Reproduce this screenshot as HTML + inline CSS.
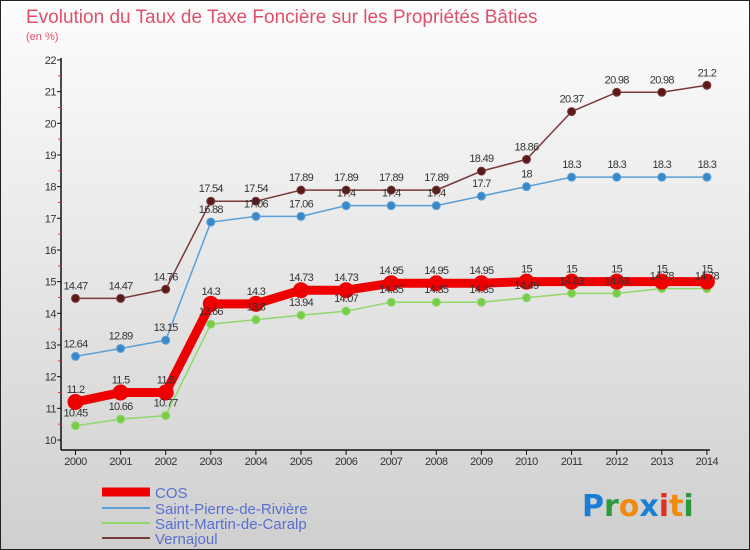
<!DOCTYPE html>
<html><head><meta charset="utf-8"><style>
body{margin:0;width:750px;height:550px;overflow:hidden;font-family:"Liberation Sans",sans-serif}
</style></head><body>
<svg id="chart" width="750" height="550" xmlns="http://www.w3.org/2000/svg" style="display:block">
<defs><linearGradient id="bg" x1="0" y1="0" x2="0" y2="1"><stop offset="0" stop-color="#fdfdfd"/><stop offset="1" stop-color="#cfcfcf"/></linearGradient></defs>
<rect x="0.5" y="0.5" width="749" height="549" fill="url(#bg)" stroke="#222"/>
<text x="26" y="23" font-size="19" fill="#e0506a">Evolution du Taux de Taxe Foncière sur les Propriétés Bâties</text>
<text x="26" y="40" font-size="11" fill="#e0506a">(en %)</text>
<g id="axes"></g><g id="series"></g><g id="labels"></g>
<g>
<line x1="102" y1="492" x2="150" y2="492" stroke="#ee0000" stroke-width="9"/>
<text x="155" y="498" font-size="15" fill="#5b6fd1">COS</text>
<line x1="102" y1="508" x2="150" y2="508" stroke="#5aa0d8" stroke-width="2"/>
<text x="155" y="514" font-size="15" fill="#5b6fd1">Saint-Pierre-de-Rivière</text>
<line x1="102" y1="523" x2="150" y2="523" stroke="#8fd86a" stroke-width="2"/>
<text x="155" y="529" font-size="15" fill="#5b6fd1">Saint-Martin-de-Caralp</text>
<line x1="102" y1="538" x2="150" y2="538" stroke="#7a3a3a" stroke-width="2"/>
<text x="155" y="544" font-size="15" fill="#5b6fd1">Vernajoul</text>
</g>
<g font-size="30" font-family="'DejaVu Sans',sans-serif" font-weight="bold">
<text x="582" y="516"><tspan fill="#1a7fd4">P</tspan><tspan fill="#2a9a3a">r</tspan><tspan fill="#f08a10">o</tspan><tspan fill="#1a7fd4">x</tspan><tspan fill="#e03020">i</tspan><tspan fill="#f08a10">t</tspan><tspan fill="#2a9a3a">i</tspan></text>
</g>
</svg>
<script>
const years=[2000,2001,2002,2003,2004,2005,2006,2007,2008,2009,2010,2011,2012,2013,2014];
const cos=[11.2,11.5,11.5,14.3,14.3,14.73,14.73,14.95,14.95,14.95,15,15,15,15,15];
const stPierre=[12.64,12.89,13.15,16.88,17.06,17.06,17.4,17.4,17.4,17.7,18,18.3,18.3,18.3,18.3];
const stMartin=[10.45,10.66,10.77,13.66,13.8,13.94,14.07,14.35,14.35,14.35,14.49,14.63,14.63,14.78,14.78];
const vernajoul=[14.47,14.47,14.76,17.54,17.54,17.89,17.89,17.89,17.89,18.49,18.86,20.37,20.98,20.98,21.2];
const yTicks=[10,11,12,13,14,15,16,17,18,19,20,21,22];
const NS="http://www.w3.org/2000/svg";
const X=i=>75.5+i*45.1, Y=v=>440-(v-10)*31.67;
function mk(tag,attrs,parent){const e=document.createElementNS(NS,tag);for(const k in attrs)e.setAttribute(k,attrs[k]);parent.appendChild(e);return e;}
const ax=document.getElementById('axes'),sr=document.getElementById('series'),lb=document.getElementById('labels');
let a=mk('line',{x1:61,y1:58,x2:61,y2:450,stroke:'#111','stroke-width':1.5},ax);


a=mk('line',{x1:61,y1:450,x2:710,y2:450,stroke:'#111','stroke-width':1.5},ax);


yTicks.forEach(v=>{mk('line',{x1:57,y1:Y(v),x2:61,y2:Y(v),stroke:'#111'},ax);
 if(v<22)mk('line',{x1:58,y1:Y(v+0.5),x2:61,y2:Y(v+0.5),stroke:'#e33'},ax);
 const t=mk('text',{x:56,y:Y(v)+4,'font-size':11,fill:'#333','text-anchor':'end','letter-spacing':'-0.5'},ax);t.textContent=v;
 
 });
years.forEach((yr,i)=>{mk('line',{x1:X(i),y1:450,x2:X(i),y2:455,stroke:'#111'},ax);
 const t=mk('text',{x:X(i),y:465,'font-size':11,fill:'#333','text-anchor':'middle','letter-spacing':'-0.5'},ax);t.textContent=yr;
 
 });
function draw(data,color,w,r,name,dot){
 const pts=data.map((v,i)=>X(i)+','+Y(v)).join(' ');
 const l=mk('polyline',{points:pts,fill:'none',stroke:color,'stroke-width':w,'stroke-linejoin':'round'},sr);
 
 
 data.forEach((v,i)=>{const c=mk('circle',{cx:X(i),cy:Y(v),r:r,fill:dot,stroke:color,'stroke-width':1},sr);
  
  
  const t=mk('text',{x:X(i),y:Y(v)-9,'font-size':11,fill:'#333','text-anchor':'middle','letter-spacing':'-0.7'},lb);t.textContent=v;
  
  });
}
draw(vernajoul,'#7a3a3a',1.5,4,'vernajoul','#5a1a1a');
draw(stPierre,'#5aa0d8',1.5,4,'saint-pierre','#3a88c8');
draw(stMartin,'#8fd86a',1.5,4,'saint-martin','#7acc48');
draw(cos,'#ee0000',9,7.5,'cos','#ee0000');
</script>
</body></html>
